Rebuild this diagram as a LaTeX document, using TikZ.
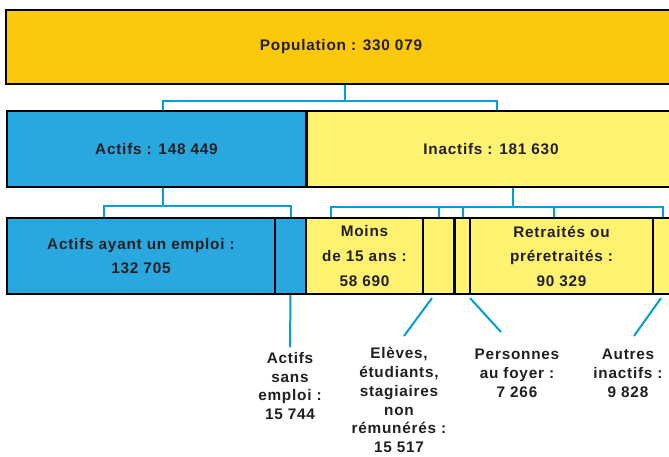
\documentclass[tikz,border=0pt]{standalone}
\usepackage{fontspec}
\setmainfont{Liberation Sans}[LetterSpace=5]
\definecolor{popcol}{RGB}{252,200,12}
\definecolor{actcol}{RGB}{41,168,224}
\definecolor{inactcol}{RGB}{255,242,112}
\definecolor{linkcol}{RGB}{0,158,219}
\definecolor{txtcol}{RGB}{35,31,32}
\begin{document}
\begin{tikzpicture}[x=0.75pt,y=-0.75pt,
    box/.style={rectangle, draw=black, line width=1.6pt, inner sep=0pt, align=center,
        text=txtcol, font=\bfseries\fontsize{11.5}{18.4}\selectfont},
    link/.style={draw=linkcol, line width=1.5pt},
    lab/.style={align=center, text=txtcol, font=\bfseries\fontsize{11.5}{14.2}\selectfont}]
    \fill[white] (0,0) rectangle (669,457);
    \path[use as bounding box, clip] (0,0) rectangle (669,457);
    % boxes
    \node [box, fill=popcol, minimum width=670*0.75pt, minimum height=74*0.75pt] (pop) at (341,47) {Population : 330 079};
    \node [box, fill=actcol, minimum width=299*0.75pt, minimum height=76*0.75pt] (actifs) at (156.5,149) {Actifs : 148 449};
    \node [box, fill=inactcol, minimum width=368*0.75pt, minimum height=76*0.75pt] (inactifs) at (491,149) {Inactifs : 181 630};
    \node [box, fill=actcol, minimum width=268*0.75pt, minimum height=76*0.75pt] (emploi) at (141,256) {Actifs ayant un emploi :\\132 705};
    \node [box, fill=actcol, minimum width=31*0.75pt, minimum height=76*0.75pt] (sansemploi) at (290.5,256) {};
    \node [box, fill=inactcol, minimum width=117*0.75pt, minimum height=76*0.75pt] (moins) at (364.5,256) {Moins\\de 15 ans :\\58 690};
    \node [box, fill=inactcol, minimum width=31*0.75pt, minimum height=76*0.75pt] (eleves) at (438.5,256) {};
    \node [box, fill=inactcol, minimum width=15*0.75pt, minimum height=76*0.75pt] (foyer) at (462.5,256) {};
    \node [box, fill=inactcol, minimum width=183*0.75pt, minimum height=76*0.75pt] (retraites) at (561.5,256) {Retraités ou\\préretraités :\\90 329};
    \node [box, fill=inactcol, minimum width=47*0.75pt, minimum height=76*0.75pt] (autres) at (676.5,256) {};
    % junctions
    \coordinate (jpop) at (345,101);
    \coordinate (jact) at (163,206);
    \coordinate (jinact) at (513,207);
    \draw [link] (pop.south -| jpop) -- (jpop);
    \draw [link] (actifs.north -| jact) |- (jpop) -| (inactifs.north -| 497,0);
    \draw [link] (actifs.south -| jact) -- (jact);
    \draw [link] (emploi.north -| 104,0) |- (jact) -| (sansemploi.north);
    \draw [link] (inactifs.south -| jinact) -- (jinact);
    \draw [link] (moins.north -| 331,0) |- (jinact) -| (autres.north -| 663,0);
    \draw [link] (eleves.north) -- (eleves.north |- jinact);
    \draw [link] (foyer.north) -- (foyer.north |- jinact);
    \draw [link] (retraites.north -| 554,0) -- (jinact -| 554,0);
    % labels under the bar
    \node [lab] (lsans) at (290,386) {Actifs\\sans\\emploi :\\15 744};
    \node [lab] (leleves) at (399,400) {Elèves,\\étudiants,\\stagiaires\\non\\rémunérés :\\15 517};
    \node [lab] (lfoyer) at (517,373) {Personnes\\au foyer :\\7 266};
    \node [lab] (lautres) at (628,373) {Autres\\inactifs :\\9 828};
    \draw [link] (sansemploi.south) -- (lsans.north);
    \draw [link] (eleves.south -| 432,0) ++(0,3) -- (404,336);
    \draw [link] (foyer.south -| 470,0) ++(0,3) -- (501,332);
    \draw [link] (autres.south -| 661,0) ++(0,3) -- (634,336);
\end{tikzpicture}
\end{document}
